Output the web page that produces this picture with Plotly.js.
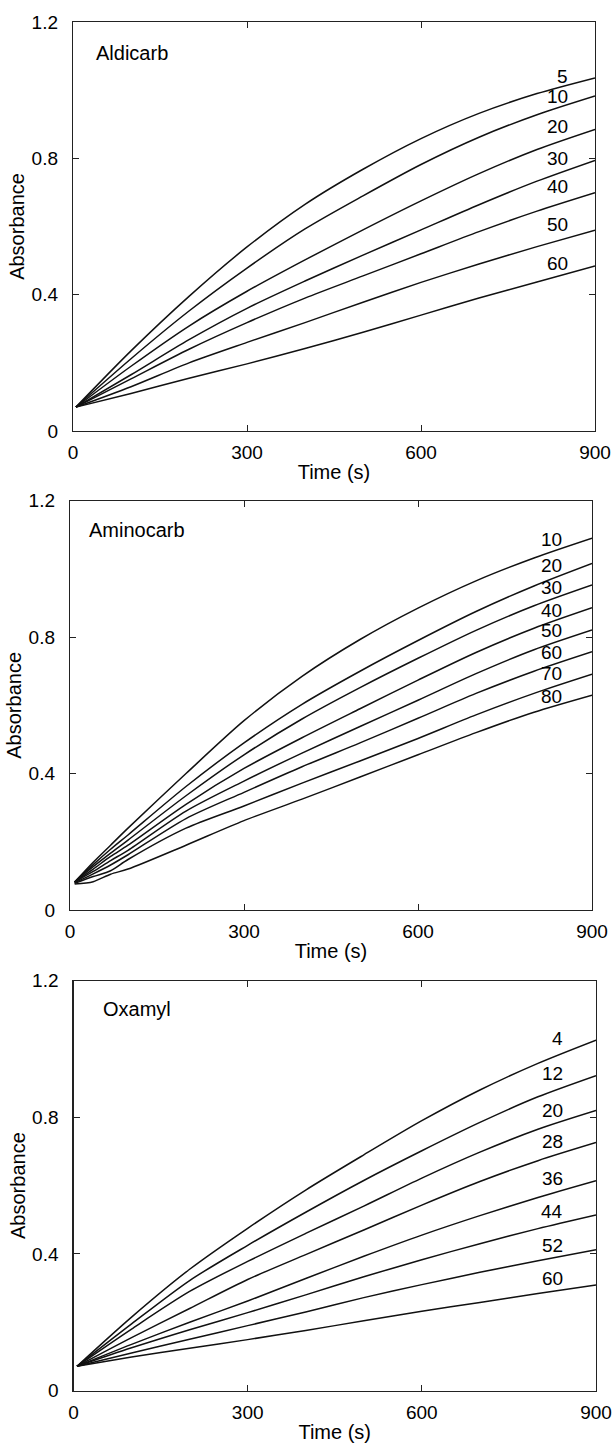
<!DOCTYPE html>
<html>
<head>
<meta charset="utf-8">
<script src="https://cdn.plot.ly/plotly-3.0.1.min.js"></script>
<style>html,body{margin:0;padding:0;background:#fff;}#chart{width:615px;height:1446px;}</style>
</head>
<body>
<div id="chart"></div>
<script>
// ---------- DATA ----------
const xTickVals = [0, 300, 600, 900];
const xTickText = ['0', '300', '600', '900'];
const yTickVals = [0, 0.4, 0.8, 1.2];
const yTickText = ['0', '0.4', '0.8', '1.2'];

// Aldicarb panel
const aldicarbTime = [5, 100, 200, 300, 400, 500, 600, 700, 800, 900];
const aldicarbLevels = ['5', '10', '20', '30', '40', '50', '60'];
const aldicarb5  = [0.070, 0.235, 0.395, 0.540, 0.665, 0.768, 0.858, 0.932, 0.990, 1.036];
const aldicarb10 = [0.070, 0.212, 0.352, 0.478, 0.593, 0.690, 0.782, 0.862, 0.928, 0.983];
const aldicarb20 = [0.070, 0.190, 0.308, 0.410, 0.502, 0.590, 0.675, 0.755, 0.826, 0.885];
const aldicarb30 = [0.070, 0.165, 0.268, 0.360, 0.440, 0.516, 0.590, 0.664, 0.733, 0.794];
const aldicarb40 = [0.070, 0.153, 0.240, 0.318, 0.390, 0.455, 0.520, 0.585, 0.645, 0.699];
const aldicarb50 = [0.070, 0.130, 0.200, 0.260, 0.318, 0.378, 0.436, 0.490, 0.541, 0.589];
const aldicarb60 = [0.070, 0.110, 0.155, 0.197, 0.242, 0.290, 0.340, 0.390, 0.437, 0.484];
const aldicarbLabelY = [1.039, 0.980, 0.894, 0.799, 0.716, 0.606, 0.491];

// Aminocarb panel
const aminocarbTime = [8, 40, 70, 100, 200, 300, 400, 500, 600, 700, 800, 900];
const aminocarbLevels = ['10', '20', '30', '40', '50', '60', '70', '80'];
const aminocarb10 = [0.082, 0.140, 0.190, 0.240, 0.400, 0.555, 0.685, 0.793, 0.885, 0.965, 1.032, 1.090];
const aminocarb20 = [0.082, 0.133, 0.178, 0.220, 0.362, 0.490, 0.603, 0.700, 0.790, 0.875, 0.950, 1.016];
const aminocarb30 = [0.082, 0.127, 0.167, 0.205, 0.335, 0.455, 0.560, 0.652, 0.738, 0.820, 0.892, 0.953];
const aminocarb40 = [0.082, 0.120, 0.157, 0.190, 0.310, 0.415, 0.505, 0.590, 0.674, 0.755, 0.826, 0.886];
const aminocarb50 = [0.082, 0.113, 0.145, 0.175, 0.290, 0.378, 0.460, 0.538, 0.615, 0.693, 0.763, 0.821];
const aminocarb60 = [0.080, 0.106, 0.132, 0.162, 0.268, 0.345, 0.420, 0.490, 0.562, 0.635, 0.700, 0.757];
const aminocarb70 = [0.078, 0.098, 0.115, 0.148, 0.240, 0.305, 0.372, 0.437, 0.503, 0.572, 0.635, 0.691];
const aminocarb80 = [0.076, 0.083, 0.105, 0.120, 0.190, 0.262, 0.325, 0.390, 0.455, 0.520, 0.580, 0.630];
const aminocarbLabelY = [1.087, 1.009, 0.946, 0.877, 0.819, 0.755, 0.692, 0.625];

// Oxamyl panel
const oxamylTime = [6, 100, 200, 300, 400, 500, 600, 700, 800, 900];
const oxamylLevels = ['4', '12', '20', '28', '36', '44', '52', '60'];
const oxamyl4  = [0.071, 0.215, 0.355, 0.475, 0.587, 0.690, 0.790, 0.880, 0.958, 1.026];
const oxamyl12 = [0.071, 0.195, 0.322, 0.425, 0.522, 0.615, 0.702, 0.785, 0.860, 0.922];
const oxamyl20 = [0.071, 0.180, 0.290, 0.378, 0.460, 0.540, 0.622, 0.698, 0.765, 0.820];
const oxamyl28 = [0.071, 0.155, 0.240, 0.325, 0.398, 0.470, 0.543, 0.612, 0.673, 0.726];
const oxamyl36 = [0.071, 0.135, 0.200, 0.262, 0.328, 0.393, 0.455, 0.512, 0.565, 0.614];
const oxamyl44 = [0.071, 0.125, 0.178, 0.228, 0.280, 0.333, 0.383, 0.430, 0.474, 0.514];
const oxamyl52 = [0.071, 0.110, 0.150, 0.190, 0.230, 0.272, 0.310, 0.346, 0.380, 0.412];
const oxamyl60 = [0.071, 0.098, 0.124, 0.149, 0.176, 0.204, 0.232, 0.258, 0.284, 0.309];
const oxamylLabelY = [1.031, 0.929, 0.821, 0.729, 0.621, 0.524, 0.426, 0.329];

// ---------- FIGURE ----------
const FONT = 'Liberation Sans, Arial, Helvetica, sans-serif';
const panels = [
  {name: 'Aldicarb', time: aldicarbTime, levels: aldicarbLevels,
   curves: [aldicarb5, aldicarb10, aldicarb20, aldicarb30, aldicarb40, aldicarb50, aldicarb60],
   labelY: aldicarbLabelY, labelX: 857, nameX: 36, nameY: 1.108,
   xd: [73 / 615, 595 / 615], yd: [1 - 431 / 1446, 1 - 22 / 1446]},
  {name: 'Aminocarb', time: aminocarbTime, levels: aminocarbLevels,
   curves: [aminocarb10, aminocarb20, aminocarb30, aminocarb40, aminocarb50, aminocarb60, aminocarb70, aminocarb80],
   labelY: aminocarbLabelY, labelX: 851, nameX: 29, nameY: 1.114,
   xd: [70 / 615, 592 / 615], yd: [1 - 910 / 1446, 1 - 500.7 / 1446]},
  {name: 'Oxamyl', time: oxamylTime, levels: oxamylLevels,
   curves: [oxamyl4, oxamyl12, oxamyl20, oxamyl28, oxamyl36, oxamyl44, oxamyl52, oxamyl60],
   labelY: oxamylLabelY, labelX: 847, nameX: 47, nameY: 1.116,
   xd: [73.5 / 615, 596 / 615], yd: [1 - 1390.5 / 1446, 1 - 980.7 / 1446]}
];

const traces = [];
const annotations = [];
const layout = {
  width: 615, height: 1446,
  margin: {l: 0, r: 0, t: 0, b: 0},
  paper_bgcolor: '#fff', plot_bgcolor: '#fff',
  showlegend: false,
  font: {family: FONT, size: 19, color: '#000'},
  annotations: annotations
};

panels.forEach((p, i) => {
  const n = i === 0 ? '' : String(i + 1);
  const xa = 'x' + n, ya = 'y' + n;
  p.curves.forEach((vals, k) => {
    traces.push({
      x: p.time, y: vals, xaxis: xa, yaxis: ya,
      type: 'scatter', mode: 'lines',
      line: {color: '#111', width: 1.5, shape: 'spline', smoothing: 0.8},
      hoverinfo: 'skip', name: p.name + ' ' + p.levels[k]
    });
    annotations.push({
      xref: xa, yref: ya, x: p.labelX, y: p.labelY[k],
      text: p.levels[k], showarrow: false,
      xanchor: 'right', yanchor: 'middle',
      font: {family: FONT, size: 19, color: '#000'}
    });
  });
  annotations.push({
    xref: xa, yref: ya, x: p.nameX, y: p.nameY,
    text: p.name, showarrow: false, xanchor: 'left', yanchor: 'middle',
    font: {family: FONT, size: 20, color: '#000'}
  });
  layout['xaxis' + n] = {
    domain: p.xd, anchor: ya, range: [0, 900],
    tickmode: 'array', tickvals: xTickVals, ticktext: xTickText,
    ticks: 'inside', ticklen: 6, tickwidth: 1, tickcolor: '#222',
    mirror: 'ticks', showline: true, linecolor: '#222', linewidth: 1.2,
    showgrid: false, zeroline: false, automargin: false,
    ticklabelstandoff: 4,
    tickfont: {family: FONT, size: 19, color: '#000'},
    title: {text: 'Time (s)', font: {family: FONT, size: 20, color: '#000'}, standoff: 3}
  };
  layout['yaxis' + n] = {
    domain: p.yd, anchor: xa, range: [0, 1.2],
    tickmode: 'array', tickvals: yTickVals, ticktext: yTickText,
    ticks: 'inside', ticklen: 6, tickwidth: 1, tickcolor: '#222',
    mirror: 'ticks', showline: true, linecolor: '#222', linewidth: 1.2,
    showgrid: false, zeroline: false, automargin: false,
    ticklabelstandoff: 10,
    tickfont: {family: FONT, size: 19, color: '#000'},
    title: {text: 'Absorbance', font: {family: FONT, size: 20, color: '#000'}, standoff: 1}
  };
});

Plotly.newPlot('chart', traces, layout, {staticPlot: true, displayModeBar: false});
</script>
</body>
</html>
